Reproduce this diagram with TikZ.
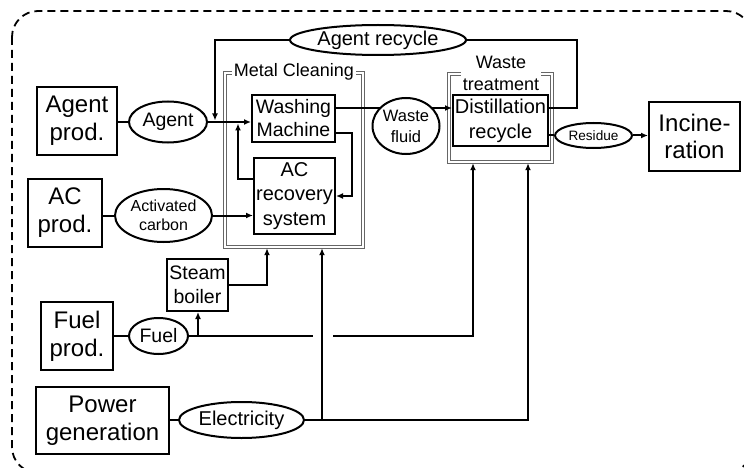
\documentclass[tikz,border=0pt]{standalone}
\usepackage{fontspec}
\setmainfont{Liberation Sans}
\usetikzlibrary{arrows.meta,shapes.geometric,calc}
\newcommand\fsz[2]{\fontsize{#1pt}{#2pt}\selectfont}
\begin{document}
\begin{tikzpicture}[x=1pt,y=-1pt,
 ln/.style={line width=2pt},
 arr/.style={ln,-{Latex[length=7pt,width=6pt]}},
 bx/.style={draw,ln,rectangle,inner sep=0pt,align=center},
 el/.style={draw,ln,ellipse,inner sep=0pt,align=center,fill=white},
 grp/.style={rectangle,inner sep=0pt},
 gline/.style={draw=black!60,line width=0.9pt},
 lbl/.style={fill=white,inner sep=1.5pt,align=center}]
\useasboundingbox (0,0) rectangle (744,468);
\draw[dash pattern=on 8pt off 5pt,line width=1.8pt,rounded corners=26pt] (12,11) rectangle (752,473);

% group boxes (double gray outline)
\node[grp,minimum width=140pt,minimum height=176pt] (mc) at (294,160) {};
\draw[gline] (mc.south west) rectangle (mc.north east);
\draw[gline] ($(mc.south west)+(2.4,-2.4)$) rectangle ($(mc.north east)+(-2.4,2.4)$);
\node[lbl,font=\fsz{18}{21}] (mcl) at (294,72) {Metal Cleaning};
\node[grp,minimum width=105pt,minimum height=90pt] (wt) at (500.5,118) {};
\draw[gline] (wt.south west) rectangle (wt.north east);
\draw[gline] ($(wt.south west)+(2.4,-2.4)$) rectangle ($(wt.north east)+(-2.4,2.4)$);
\node[lbl,font=\fsz{18}{22}] (wtl) at (501,73) {Waste\\treatment};

% boxes
\node[bx,minimum width=80pt,minimum height=68pt,font=\fsz{24}{28}] (agp) at (77,121) {Agent\\prod.};
\node[bx,minimum width=74pt,minimum height=68pt,font=\fsz{24}{28}] (acp) at (65,213) {AC\\prod.};
\node[bx,minimum width=72pt,minimum height=68pt,font=\fsz{24}{28}] (fp) at (77,336) {Fuel\\prod.};
\node[bx,minimum width=61pt,minimum height=52pt,font=\fsz{19.5}{24}] (sb) at (197.5,285) {Steam\\boiler};
\node[bx,minimum width=133pt,minimum height=67pt,font=\fsz{24}{28}] (pg) at (102.5,420.5) {Power\\generation};
\node[bx,minimum width=83pt,minimum height=47pt,font=\fsz{19.5}{23}] (wm) at (293.5,118.5) {Washing\\Machine};
\node[bx,minimum width=81pt,minimum height=76pt,font=\fsz{20}{24.5}] (acr) at (294.5,196) {AC\\recovery\\system};
\node[bx,minimum width=95pt,minimum height=51pt,font=\fsz{20}{25}] (ds) at (500.5,120.5) {Distillation\\recycle};
\node[bx,minimum width=91pt,minimum height=69pt,font=\fsz{24}{27}] (inc) at (694.5,136.5) {Incine-\\ration};

% ellipses
\node[el,minimum width=78pt,minimum height=41pt,font=\fsz{19.5}{23}] (ag) at (168,122) {Agent};
\node[el,minimum width=97pt,minimum height=53pt,font=\fsz{16}{19}] (ac) at (163.5,215.5) {Activated\\carbon};
\node[el,minimum width=59pt,minimum height=36pt,font=\fsz{19.5}{23}] (fu) at (158.5,336) {Fuel};
\node[el,minimum width=125pt,minimum height=36pt,font=\fsz{20}{23}] (el) at (241.5,420) {Electricity};
\node[el,minimum width=176pt,minimum height=30pt,font=\fsz{20}{23}] (ar) at (378,40) {Agent recycle};
\node[el,minimum width=77pt,minimum height=25pt,font=\fsz{13.6}{16}] (rs) at (593.5,135.5) {Residue};

% bend coordinates
\coordinate (r1) at (215,40);
\coordinate (r2) at (215,120.5);
\coordinate (c1) at (238,179);
\coordinate (c2) at (238,123.5);
\coordinate (w1) at (352,133);
\coordinate (w2) at (352,196);
\coordinate (y108) at (0,108);
\coordinate (y133) at (0,133);
\coordinate (y179) at (0,179);
\coordinate (d1) at (577,108);
\coordinate (d2) at (577,40);
\coordinate (fj0) at (198,336);
\coordinate (fga) at (313,336);
\coordinate (fgb) at (333,336);
\coordinate (fj1) at (473,336);
\coordinate (sj) at (267,285);
\coordinate (ej1) at (322,420);
\coordinate (ej2) at (528,420);

% connectors
\draw[ln] (ag.west -| agp.east) -- (ag.west);
\draw[arr] (ag.east) -- (ag.east -| wm.west);
\draw[arr] (ar.west) -- (r1) -- (r2);
\draw[arr] (acr.west |- y179) -- (c1) -- (c2);
\draw[arr] (wm.east |- y133) -- (w1) -- (w2) -- (acr.east);
\draw[ln] (ac.west -| acp.east) -- (ac.west);
\draw[arr] (ac.east) -- (ac.east -| acr.west);
\draw[arr] (wm.east |- y108) -- (ds.west |- y108);
\draw[ln] (ds.east |- y108) -- (d1) -- (d2) -- (ar.east);
\draw[ln] (ds.east |- rs.west) -- (rs.west);
\draw[arr] (rs.east) -- (rs.east -| inc.west);
\draw[ln] (fp.east) -- (fu.west);
\draw[ln] (fu.east) -- (fga);
\draw[arr] (fgb) -- (fj1) -- (fj1 |- wt.south);
\draw[arr] (fj0) -- (fj0 |- sb.south);
\draw[arr] (sb.east) -- (sj) -- (sj |- mc.south);
\draw[ln] (el.west -| pg.east) -- (el.west);
\draw[arr] (el.east) -- (ej2) -- (ej2 |- wt.south);
\draw[arr] (ej1) -- (ej1 |- mc.south);

% waste fluid on top of its line
\node[el,minimum width=67pt,minimum height=56pt,font=\fsz{16.5}{21}] (wf) at (406,126) {Waste\\fluid};
\end{tikzpicture}
\end{document}
